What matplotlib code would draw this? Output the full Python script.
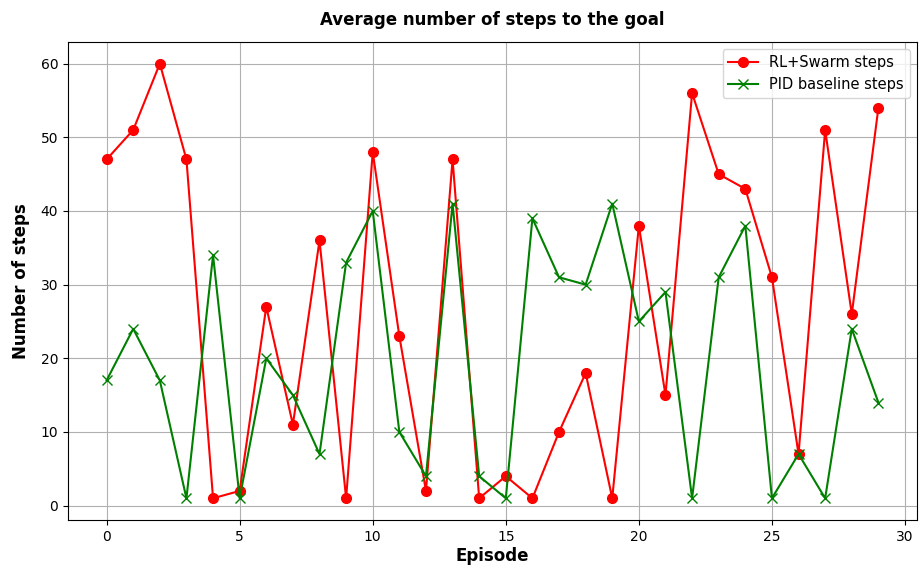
import matplotlib
matplotlib.use("Agg")
import matplotlib.pyplot as plt

episodes = list(range(30))
rl_swarm = [47, 51, 60, 47, 1, 2, 27, 11, 36, 1, 48, 23, 2, 47, 1, 4, 1, 10, 18, 1,
            38, 15, 56, 45, 43, 31, 7, 51, 26, 54]
pid_base = [17, 24, 17, 1, 34, 1, 20, 15, 7, 33, 40, 10, 4, 41, 4, 1, 39, 31, 30, 41,
            25, 29, 1, 31, 38, 1, 7, 1, 24, 14]

fig = plt.figure(figsize=(9.24, 5.76), dpi=100)
ax = fig.add_axes([0.0736, 0.0972, 0.9188, 0.83])
ax.plot(episodes, rl_swarm, color="red", marker="o", markersize=7, linewidth=1.5,
        label="RL+Swarm steps")
ax.plot(episodes, pid_base, color="green", marker="x", markersize=7, linewidth=1.5,
        label="PID baseline steps")
ax.set_title("Average number of steps to the goal", fontsize=12, fontweight="bold", pad=12)
ax.set_xlabel("Episode", fontsize=12, fontweight="bold", labelpad=2)
ax.set_ylabel("Number of steps", fontsize=12, fontweight="bold", labelpad=8)
ax.grid(True, color="#b0b0b0", linewidth=0.8)
ax.tick_params(labelsize=10)
ax.legend(loc="upper right", fontsize=10.5)
fig.savefig("out.png", dpi=100)
